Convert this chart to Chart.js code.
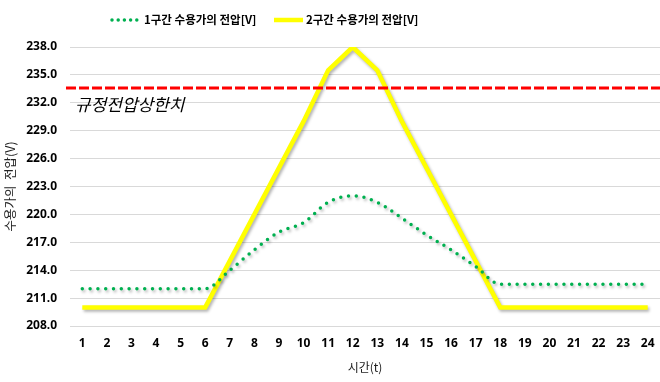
<!DOCTYPE html>
<html>
<head>
<meta charset="utf-8">
<script src="https://cdn.jsdelivr.net/npm/chart.js@4.4.0/dist/chart.umd.min.js"></script>
<style>
  html, body { margin: 0; padding: 0; background: #fff; }
  #wrap { width: 660px; height: 382px; position: relative; }
</style>
</head>
<body>
<div id="wrap"><canvas id="c" width="660" height="382"></canvas></div>
<script>
const categories = ['1','2','3','4','5','6','7','8','9','10','11','12','13','14','15','16','17','18','19','20','21','22','23','24'];
const section1Voltage = [212,212,212,212,212,212,214.0,216.2,218.1,219.1,221.3,222.0,221.3,219.6,217.8,216.2,214.4,212.5,212.5,212.5,212.5,212.5,212.5,212.5];
const section2Voltage = [210,210,210,210,210,210,215,220,225,230,235.5,238,235.5,230,225,220,215,210,210,210,210,210,210,210];
const yTickValues = [208,211,214,217,220,223,226,229,232,235,238];
const upperLimit = 233.6;
const seriesLabels = ['1구간 수용가의 전압[V]', '2구간 수용가의 전압[V]'];
const limitLabel = '규정전압상한치';
const xTitle = '시간(t)';
const yTitle = '수용가의  전압(V)';

const KR = "'Noto Sans CJK KR', 'Noto Sans', sans-serif";

const shadowPlugin = {
  id: 'shadow',
  beforeDatasetDraw(chart, args) {
    const ctx = chart.ctx;
    ctx.save();
    ctx.shadowColor = 'rgba(0,0,0,0.30)';
    ctx.shadowBlur = 3;
    ctx.shadowOffsetX = 1.5;
    ctx.shadowOffsetY = 2;
  },
  afterDatasetDraw(chart) {
    chart.ctx.restore();
  }
};

const overlayPlugin = {
  id: 'overlay',
  afterDatasetsDraw(chart) {
    const ctx = chart.ctx;
    const y = chart.scales.y.getPixelForValue(upperLimit);
    ctx.save();
    ctx.strokeStyle = '#FF0000';
    ctx.lineWidth = 3;
    ctx.setLineDash([10, 3]);
    ctx.beginPath();
    ctx.moveTo(chart.chartArea.left - 4, y);
    ctx.lineTo(chart.width, y);
    ctx.stroke();
    ctx.setLineDash([]);
    ctx.fillStyle = '#000';
    ctx.font = "italic 17px " + KR;
    ctx.textBaseline = 'middle';
    ctx.textAlign = 'left';
    ctx.fillText(limitLabel, chart.chartArea.left + 5, y + 17);
    ctx.restore();
  },
  afterDraw(chart) {
    const ctx = chart.ctx;
    const ly = 20;
    ctx.save();
    ctx.strokeStyle = '#00B050';
    ctx.lineWidth = 3.5;
    ctx.lineCap = 'round';
    ctx.setLineDash([0, 6.2]);
    ctx.beginPath();
    ctx.moveTo(112, ly);
    ctx.lineTo(138, ly);
    ctx.stroke();
    ctx.setLineDash([]);
    ctx.lineCap = 'butt';
    ctx.strokeStyle = '#FFFF00';
    ctx.lineWidth = 4.5;
    ctx.beginPath();
    ctx.moveTo(274, ly);
    ctx.lineTo(303, ly);
    ctx.stroke();
    ctx.fillStyle = '#000';
    ctx.font = "bold 11.5px " + KR;
    ctx.textBaseline = 'middle';
    ctx.textAlign = 'left';
    ctx.fillText(seriesLabels[0], 144, ly);
    ctx.fillText(seriesLabels[1], 306, ly);
    ctx.restore();
  }
};

new Chart(document.getElementById('c'), {
  type: 'line',
  data: {
    labels: categories,
    datasets: [
      {
        label: seriesLabels[0],
        data: section1Voltage,
        borderColor: '#00B050',
        backgroundColor: '#00B050',
        borderWidth: 3.5,
        borderDash: [0, 7.8],
        borderCapStyle: 'round',
        pointRadius: 0,
        cubicInterpolationMode: 'monotone',
        fill: false
      },
      {
        label: seriesLabels[1],
        data: section2Voltage,
        borderColor: '#FFFF00',
        backgroundColor: '#FFFF00',
        borderWidth: 4.5,
        borderJoinStyle: 'miter',
        pointRadius: 0,
        tension: 0,
        fill: false
      }
    ]
  },
  options: {
    responsive: false,
    animation: false,
    devicePixelRatio: 1,
    layout: { padding: { top: 47, left: 0, right: 0, bottom: 0 } },
    plugins: {
      legend: { display: false },
      tooltip: { enabled: false }
    },
    scales: {
      x: {
        offset: true,
        grid: { display: false, drawTicks: true, tickLength: 8 },
        border: { display: false },
        ticks: { color: '#000', font: { family: "'Noto Sans', sans-serif", size: 12, weight: 'bold' }, padding: 2, maxRotation: 0, autoSkip: false },
        title: { display: true, text: xTitle, color: '#222', font: { family: KR, size: 12 }, padding: { top: 0, bottom: 7 } },
        afterFit(s) { s.height = 56; }
      },
      y: {
        min: 208,
        max: 238,
        afterBuildTicks(s) { s.ticks = yTickValues.map(v => ({ value: v })); },
        grid: { color: '#D9D9D9', lineWidth: 1, drawTicks: false },
        border: { display: false },
        ticks: {
          color: '#000',
          font: { family: "'Noto Sans', sans-serif", size: 12, weight: 'bold' },
          padding: 13,
          callback: v => Number(v).toFixed(1)
        },
        title: { display: true, text: yTitle, color: '#222', font: { family: KR, size: 12.5 }, padding: { top: 2.5, bottom: 0 } },
        afterFit(s) { s.width = 70; }
      }
    }
  },
  plugins: [shadowPlugin, overlayPlugin]
});
</script>
</body>
</html>
